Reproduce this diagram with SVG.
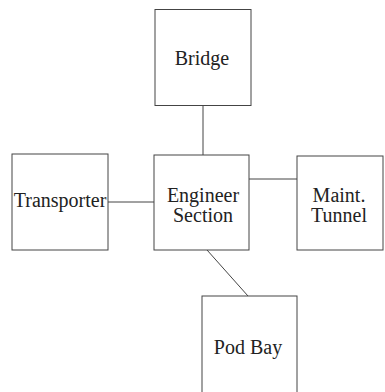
<svg xmlns="http://www.w3.org/2000/svg" width="385" height="392" viewBox="0 0 385 392">
<style>
.box{fill:#fff;stroke:#444;stroke-width:1}
.lbl{font-family:"Liberation Serif","Times New Roman",serif;font-size:20px;fill:#222;text-anchor:middle}
.conn{stroke:#444;stroke-width:1;fill:none}
</style>
<rect width="385" height="392" fill="#fff"/>
<g id="connectors">
<line class="conn" x1="203" y1="106" x2="203" y2="155"/>
<line class="conn" x1="108" y1="202" x2="154" y2="202"/>
<line class="conn" x1="249" y1="179" x2="297" y2="179"/>
<line class="conn" x1="207" y1="250" x2="248" y2="296" stroke="#777"/>
</g>
<g id="bridge">
<rect class="box" x="155" y="9.5" width="96" height="96"/>
<text class="lbl" x="202" y="65">Bridge</text>
</g>
<g id="transporter">
<rect class="box" x="12" y="154" width="96" height="96"/>
<text class="lbl" x="60" y="207">Transporter</text>
</g>
<g id="engineer">
<rect class="box" x="154" y="155" width="95" height="95"/>
<text class="lbl" x="203" y="202">Engineer</text>
<text class="lbl" x="203" y="222">Section</text>
</g>
<g id="maint">
<rect class="box" x="297" y="156" width="86" height="94"/>
<text class="lbl" x="339" y="202">Maint.</text>
<text class="lbl" x="339" y="222">Tunnel</text>
</g>
<g id="podbay">
<rect class="box" x="202" y="296" width="95" height="100"/>
<text class="lbl" x="248" y="354">Pod Bay</text>
</g>
</svg>
